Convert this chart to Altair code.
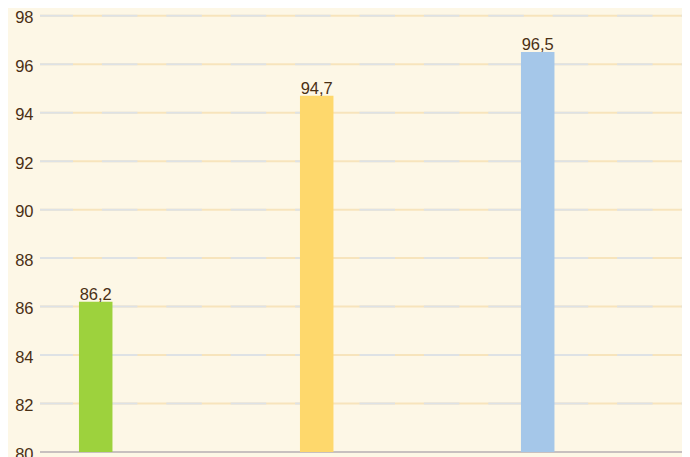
import altair as alt
import pandas as pd

categories = ["A", "B", "C"]
values = [86.2, 94.7, 96.5]
colors = ["#9dd23d", "#fed86c", "#a5c7e9"]
y_ticks = [80, 82, 84, 86, 88, 90, 92, 94, 96, 98]
title_text = "до 45 дневного возраста, %"

bars_df = pd.DataFrame({
    "cat": categories,
    "val": values,
    "label": [f"{v:.1f}".replace(".", ",") for v in values],
    "color": colors,
})
grid_df = pd.DataFrame({"t": [t for t in y_ticks if t != 80]})
base_df = pd.DataFrame({"t": [80]})

FONT = "Liberation Sans Narrow, Liberation Sans, Arial"
BROWN = "#4a2f14"

yscale = alt.Scale(domain=[80, 98.32], zero=False, nice=False)
xscale = alt.Scale(domain=categories, paddingInner=0.8484, paddingOuter=0.3767, align=0.234)

grid_orange = alt.Chart(grid_df).mark_rule(color="#f7e4bc", strokeWidth=2).encode(
    y=alt.Y("t:Q", scale=yscale, axis=alt.Axis(values=y_ticks, grid=False, ticks=False, domain=False,
                                               labelFont=FONT, labelFontSize=16.5, labelColor=BROWN,
                                               labelPadding=7, labelOffset=2, title=None))
)
grid_blue = alt.Chart(grid_df).mark_rule(color="#dee2e5", strokeWidth=2,
                                         strokeDash=[35.5, 28.9], strokeDashOffset=35).encode(
    y=alt.Y("t:Q", scale=yscale)
)
base_line = alt.Chart(base_df).mark_rule(color="#c8c0bf", strokeWidth=2).encode(
    y=alt.Y("t:Q", scale=yscale)
)

bars = alt.Chart(bars_df).mark_bar(clip=True).encode(
    x=alt.X("cat:N", scale=xscale, axis=None, sort=categories),
    y=alt.Y("val:Q", scale=yscale),
    color=alt.Color("color:N", scale=None),
)
labels = alt.Chart(bars_df).mark_text(font=FONT, fontSize=16.5, color=BROWN, baseline="alphabetic", dy=-2).encode(
    x=alt.X("cat:N", scale=xscale, sort=categories),
    y=alt.Y("val:Q", scale=yscale),
    text="label:N",
)
title = alt.Chart(pd.DataFrame({"t": [title_text]})).mark_text(
    font="Liberation Sans", fontSize=26, fontWeight="bold", color="#4a2a0c", clip=True,
    baseline="bottom", align="center"
).encode(x=alt.value(340), y=alt.value(-2), text="t:N")

chart = alt.layer(grid_orange, grid_blue, base_line, bars, labels, title).properties(
    width=642, height=444,
    background="#fdf7e6",
    padding={"left": 32, "top": 0, "right": 0, "bottom": 12},
    autosize=alt.AutoSizeParams(type="none"),
).configure_view(stroke=None)

chart.save("out.html", embed_options={"renderer": "svg", "actions": False})
